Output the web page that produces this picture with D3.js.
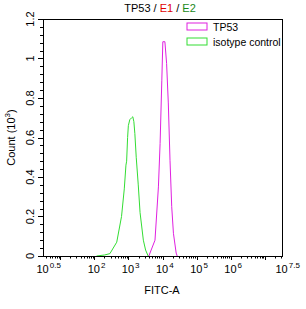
<!DOCTYPE html>
<html>
<head>
<meta charset="utf-8">
<script src="https://cdn.jsdelivr.net/npm/d3@7"></script>
<style>
  html, body { margin: 0; padding: 0; background: #fff; }
  svg { display: block; font-family: "Liberation Sans", Arial, sans-serif; }
</style>
</head>
<body>
<svg id="chart" width="306" height="309"></svg>
<script>
// FITC-A intensity (x) and count in thousands (y)
const tp53X = [3980, 6030, 7590, 8510, 9550, 10230, 11750, 13180, 14790, 16600, 18620, 20890, 25120, 26920];
const tp53Y = [0, 0.08, 0.35, 0.57, 0.89, 1.085, 1.085, 0.975, 0.775, 0.485, 0.25, 0.115, 0.015, 0];

const isoX = [117, 200, 288, 457, 631, 760, 850, 890, 950, 1000, 1100, 1250, 1350, 1450, 1550, 1700, 1950, 2200, 2750, 3200, 3800];
const isoY = [0, 0.005, 0.012, 0.07, 0.2, 0.34, 0.46, 0.48, 0.6, 0.66, 0.69, 0.70, 0.705, 0.68, 0.62, 0.50, 0.36, 0.22, 0.08, 0.03, 0];

const xTickExps = [0.5, 2, 3, 4, 5, 6, 7.5];
const yTicks = [0, 0.2, 0.4, 0.6, 0.8, 1, 1.2];

const series = [
  { name: "TP53", color: "#e020e0", xs: tp53X, ys: tp53Y },
  { name: "isotype control", color: "#33dd33", xs: isoX, ys: isoY }
];

const svg = d3.select("#chart");
const m = { left: 43, right: 282, top: 19, bottom: 256 };

const x = d3.scaleLog().domain([Math.pow(10, 0.5), Math.pow(10, 7.5)]).range([m.left, m.right]);
const y = d3.scaleLinear().domain([0, 1.2]).range([m.bottom, m.top]);

// title
const title = svg.append("text")
  .attr("x", 160).attr("y", 12)
  .attr("text-anchor", "middle")
  .attr("font-size", 11);
[["TP53", "#000"], [" / ", "#000"], ["E1", "#e00000"], [" / ", "#000"], ["E2", "#1a8a1a"]]
  .forEach(([t, c]) => title.append("tspan").attr("fill", c).text(t));

// curves
const line = d3.line()
  .x(d => x(d[0]))
  .y(d => y(d[1]));

series.forEach(s => {
  svg.append("path")
    .datum(d3.zip(s.xs, s.ys))
    .attr("d", line)
    .attr("fill", "none")
    .attr("stroke", s.color)
    .attr("stroke-width", 1);
});

// frame
svg.append("rect")
  .attr("x", m.left).attr("y", m.top)
  .attr("width", m.right - m.left).attr("height", m.bottom - m.top)
  .attr("fill", "none").attr("stroke", "#000").attr("stroke-width", 1)
  .attr("shape-rendering", "crispEdges");

// x minor + major ticks
const xMinor = [];
for (let k = 0; k <= 7; k++) {
  for (let j = 1; j <= 9; j++) {
    const v = j * Math.pow(10, k);
    if (v >= x.domain()[0] && v <= x.domain()[1]) xMinor.push(v);
  }
}
svg.append("g").selectAll("line").data(xMinor).join("line")
  .attr("x1", d => Math.round(x(d)) + 0.5).attr("x2", d => Math.round(x(d)) + 0.5)
  .attr("y1", m.bottom).attr("y2", d => m.bottom + (Math.abs(Math.log10(d) % 1) < 1e-9 ? 4 : 2.5))
  .attr("stroke", "#000").attr("stroke-width", 1);

// x labels
const xl = svg.append("g").selectAll("text").data(xTickExps).join("text")
  .attr("x", d => x(Math.pow(10, d)) - 6.5)
  .attr("y", 273)
  .attr("font-size", 11);
xl.append("tspan").text("10");
xl.append("tspan").attr("dy", -5).attr("dx", 1).attr("font-size", 8).text(d => d);

// x title
svg.append("text")
  .attr("x", 162).attr("y", 294)
  .attr("text-anchor", "middle")
  .attr("font-size", 11)
  .text("FITC-A");

// y ticks
const yMinor = d3.range(0, 1.2001, 0.04);
svg.append("g").selectAll("line").data(yMinor).join("line")
  .attr("x1", m.left).attr("x2", (d, i) => m.left - (i % 5 === 0 ? 5 : 3))
  .attr("y1", d => Math.round(y(d)) + 0.5).attr("y2", d => Math.round(y(d)) + 0.5)
  .attr("stroke", "#000").attr("stroke-width", 1);

svg.append("g").selectAll("text").data(yTicks).join("text")
  .attr("transform", d => `translate(34,${y(d)}) rotate(-90)`)
  .attr("text-anchor", "middle")
  .attr("font-size", 11)
  .text(d => d);

// y title
const yt = svg.append("text")
  .attr("transform", `translate(15,${(m.top + m.bottom) / 2}) rotate(-90)`)
  .attr("text-anchor", "middle")
  .attr("font-size", 11);
yt.append("tspan").text("Count (10");
yt.append("tspan").attr("dy", -5).attr("font-size", 8).text("3");
yt.append("tspan").attr("dy", 5).text(")");

// legend
const leg = svg.append("g").selectAll("g").data(series).join("g")
  .attr("transform", (d, i) => `translate(187,${23 + i * 15})`);
leg.append("rect")
  .attr("width", 20).attr("height", 7)
  .attr("fill", "none").attr("stroke", d => d.color).attr("stroke-width", 1);
leg.append("text")
  .attr("x", 26).attr("y", 7.5)
  .attr("font-size", 10.5)
  .text(d => d.name);
</script>
</body>
</html>
